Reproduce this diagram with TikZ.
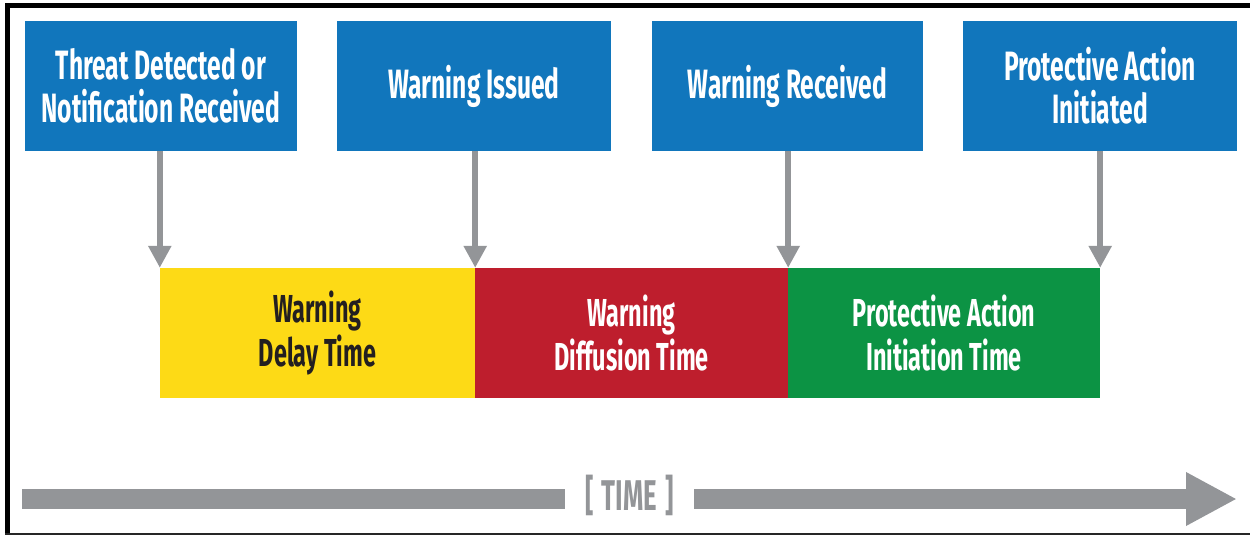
\documentclass[tikz,border=0pt]{standalone}
\usepackage{fontspec}
\setmainfont{Fira Sans}[FakeStretch=0.6]
\usetikzlibrary{arrows.meta}
\definecolor{fblue}{RGB}{17,118,188}
\definecolor{fyellow}{RGB}{253,218,22}
\definecolor{fred}{RGB}{190,30,45}
\definecolor{fgreen}{RGB}{12,147,68}
\definecolor{fgray}{RGB}{147,149,152}
\definecolor{fdark}{RGB}{35,31,32}
\begin{document}
\begin{tikzpicture}[x=1pt,y=-1pt,
  topbox/.style={fill=fblue, text=white, inner sep=0pt, minimum height=130pt,
    align=center, font=\bfseries\fontsize{41}{43}\selectfont},
  barbox/.style={inner sep=0pt, minimum height=130pt,
    align=center, font=\bfseries\fontsize{39}{44}\selectfont},
  garrow/.style={draw=fgray, line width=6pt, -{Triangle[width=22pt,length=22pt]}},
  tline/.style={draw=fgray, line width=20pt},
  timetext/.style={text=fgray, inner sep=0pt, minimum width=129pt, font=\bfseries\fontsize{43}{45}\selectfont}
]
\useasboundingbox (0,0) rectangle (1250,535);
% frame
\draw[line width=5pt] (7.5,535) -- (7.5,5.5) -- (1250,5.5);
\draw[line width=2pt, black!85] (5,534) -- (1250,534);
% top boxes
\node[topbox, minimum width=272pt] (b1) at (161,86) {Threat Detected or\\Notification Received};
\node[topbox, minimum width=274pt] (b2) at (474,86) {Warning Issued};
\node[topbox, minimum width=271pt] (b3) at (787.5,86) {Warning Received};
\node[topbox, minimum width=274pt] (b4) at (1100,86) {Protective Action\\Initiated};
% bars
\node[barbox, fill=fyellow, text=fdark, minimum width=315pt] (y) at (317.5,333) {Warning\\Delay Time};
\node[barbox, fill=fred, text=white, minimum width=313pt] (r) at (631.5,333) {Warning\\Diffusion Time};
\node[barbox, fill=fgreen, text=white, minimum width=312pt] (g) at (944,333) {Protective Action\\Initiation Time};
% arrows
\draw[garrow] (y.north west |- b1.south) -- (y.north west);
\draw[garrow] (y.north east |- b2.south) -- (y.north east);
\draw[garrow] (r.north east |- b3.south) -- (r.north east);
\draw[garrow] (g.north east |- b4.south) -- (g.north east);
% time axis
\coordinate (tl) at (22,499);
\coordinate (tr) at (1237,499);
\node[timetext] (t) at (629.5,495) {[\hspace{8pt}TIME\hspace{8pt}]};
\draw[tline] (tl) -- (tl -| t.west);
\draw[tline, -{Triangle[width=50pt,length=51pt]}] (t.east |- tr) -- (tr);
\end{tikzpicture}
\end{document}
